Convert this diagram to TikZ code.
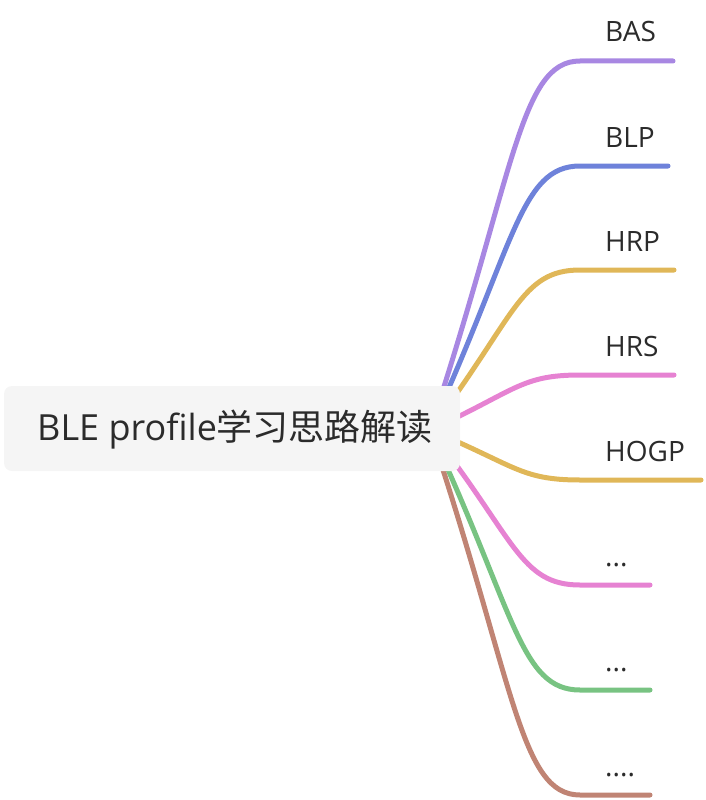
\documentclass[tikz,border=0pt]{standalone}
\usepackage{fontspec}
\setmainfont{Open Sans}
\newfontfamily\cjk{Noto Sans CJK SC}
\definecolor{cpurple}{HTML}{A887E2}
\definecolor{cblue}{HTML}{6E82DA}
\definecolor{cgold}{HTML}{E0B758}
\definecolor{cpink}{HTML}{E682D2}
\definecolor{cgreen}{HTML}{78C382}
\definecolor{cbrown}{HTML}{C08474}
\definecolor{rootfill}{HTML}{F5F5F5}
\definecolor{txt}{HTML}{2B2B2B}
\newcommand{\mydotsthree}{.{}.{}.}
\newcommand{\mydotsfour}{.{}.{}.{}.}
\begin{document}
\begin{tikzpicture}[x=1pt,y=-1pt,
  branch/.style={line width=5pt,line cap=round},
  lbl/.style={anchor=base west,inner sep=0pt,text=txt,font=\fontsize{28}{32}\selectfont},
  rootbox/.style={fill=rootfill,rounded corners=8pt,draw=none}]
\useasboundingbox (0,0) rectangle (706,800);
\coordinate (s) at (430,430);
\foreach \y/\xe/\col/\t/\n in {61/673/cpurple/BAS/1,166/668/cblue/BLP/2,270/674/cgold/HRP/3,375/674/cpink/HRS/4,480/701/cgold/HOGP/5,585/650/cpink/\mydotsthree/6,690/650/cgreen/\mydotsthree/7,795/650/cbrown/\mydotsfour/8}{
  \coordinate (k\n) at (580,\y);
  \coordinate (e\n) at (\xe,\y);
  \node[lbl] (l\n) at (605,{\y-19}) {\t};
  \draw[branch,draw=\col] (s) .. controls (515,{430+0.7*(\y-430)}) and (520,\y) .. (k\n) -- (e\n);
}
\fill[rootbox] (4,386) rectangle (460,471);
\node[anchor=base west,inner sep=0pt,text=txt,font=\fontsize{36}{40}\selectfont] (root) at (37,440) {BLE profile{\cjk 学习思路解读}};
\end{tikzpicture}
\end{document}
